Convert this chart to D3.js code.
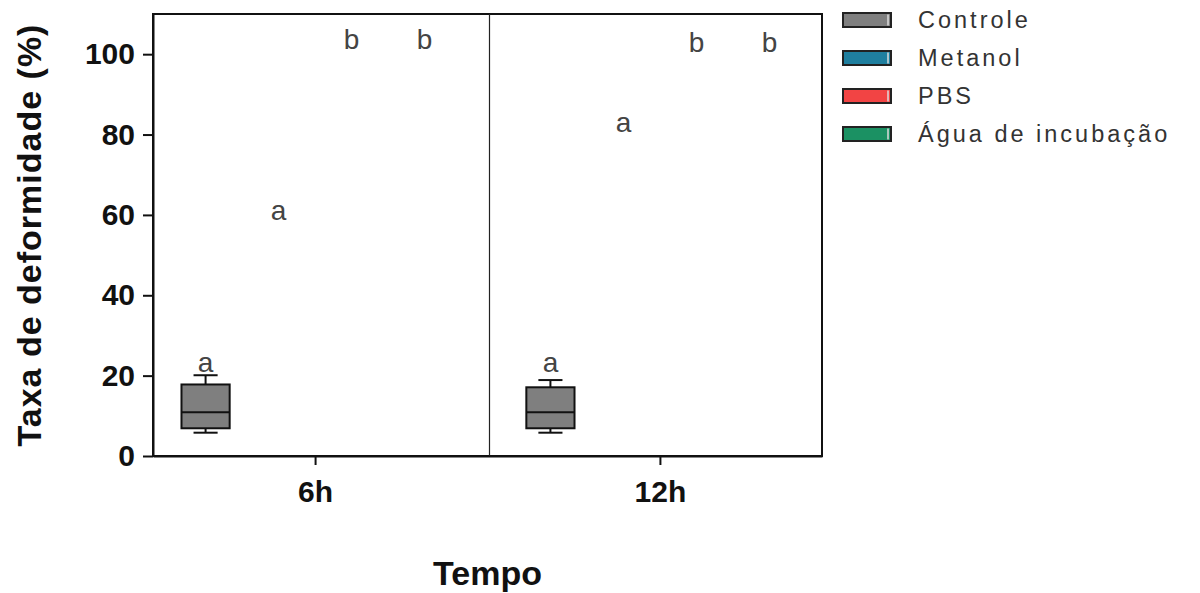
<!DOCTYPE html>
<head>
<meta charset="utf-8">
<script src="https://d3js.org/d3.v7.min.js"></script>
<style>
body { margin: 0; background: #fff; }
text { font-family: "Liberation Sans", Arial, sans-serif; }
.axis path, .axis line { stroke: #111; stroke-width: 2px; }
.axis text { font-size: 30px; font-weight: bold; fill: #111; }
.letter { font-size: 28px; fill: #444; }
.legend text { font-size: 23.5px; letter-spacing: 3px; fill: #333; }
</style>
</head>
<body>
<svg width="1200" height="593"></svg>
<script>
// data
var times = ["6h", "12h"];
var groups = ["Controle", "Metanol", "PBS", "Água de incubação"];
var colors = ["#7f7f7f", "#1f7f9f", "#f24444", "#1b9163"];

// Controle boxes: min, q1, median, q3, max
var boxes = [
  { time: "6h",  group: "Controle", min: 5.8, q1: 6.9, med: 10.9, q3: 17.8, max: 20.1 },
  { time: "12h", group: "Controle", min: 5.8, q1: 6.9, med: 10.9, q3: 17.1, max: 18.9 }
];

// significance letters
var letterTimes  = ["6h", "6h", "6h", "6h", "12h", "12h", "12h", "12h"];
var letterGroups = ["Controle", "Metanol", "PBS", "Água de incubação", "Controle", "Metanol", "PBS", "Água de incubação"];
var letterText   = ["a", "a", "b", "b", "a", "a", "b", "b"];
var letterValue  = [20.9, 58.7, 101.2, 101.2, 20.9, 80.6, 100.5, 100.5];

var yTicks = [0, 20, 40, 60, 80, 100];

var svg = d3.select("svg");
var mLeft = 153, mRight = 822, mTop = 14, mBottom = 456;

var y = d3.scaleLinear().domain([0, 110]).range([mBottom, mTop]);
var x = d3.scalePoint().domain(times).range([mLeft, mRight]).padding(0.47);
var inner = d3.scaleBand().domain(groups).range([-146, 146])
    .paddingInner(0.34).paddingOuter(0.17);

// frame
svg.append("rect")
    .attr("x", mLeft).attr("y", mTop)
    .attr("width", mRight - mLeft).attr("height", mBottom - mTop)
    .attr("fill", "none").attr("stroke", "#111").attr("stroke-width", 2);

// divider between time points
var mid = (x("6h") + x("12h")) / 2 + 2;
svg.append("line")
    .attr("x1", mid).attr("x2", mid)
    .attr("y1", mTop).attr("y2", mBottom)
    .attr("stroke", "#222").attr("stroke-width", 1.2);

// axes
svg.append("g").attr("class", "axis")
    .attr("transform", "translate(" + mLeft + ",0)")
    .call(d3.axisLeft(y).tickValues(yTicks).tickSize(10).tickSizeOuter(0).tickPadding(8));

var xa = svg.append("g").attr("class", "axis")
    .attr("transform", "translate(0," + mBottom + ")")
    .call(d3.axisBottom(x).tickSize(9).tickSizeOuter(0).tickPadding(16));
xa.selectAll("text").attr("font-size", 32);

// boxes
var bw = inner.bandwidth();
var bg = svg.append("g");
boxes.forEach(function(d) {
  var cx = x(d.time) + inner(d.group) + bw / 2;
  var col = colors[groups.indexOf(d.group)];
  var g = bg.append("g").attr("stroke", "#111").attr("stroke-width", 2);
  g.append("line").attr("x1", cx).attr("x2", cx).attr("y1", y(d.max)).attr("y2", y(d.q3));
  g.append("line").attr("x1", cx).attr("x2", cx).attr("y1", y(d.q1)).attr("y2", y(d.min));
  g.append("line").attr("x1", cx - bw / 4).attr("x2", cx + bw / 4).attr("y1", y(d.max)).attr("y2", y(d.max));
  g.append("line").attr("x1", cx - bw / 4).attr("x2", cx + bw / 4).attr("y1", y(d.min)).attr("y2", y(d.min));
  g.append("rect").attr("x", cx - bw / 2).attr("y", y(d.q3))
      .attr("width", bw).attr("height", y(d.q1) - y(d.q3))
      .attr("fill", col);
  g.append("line").attr("x1", cx - bw / 2).attr("x2", cx + bw / 2).attr("y1", y(d.med)).attr("y2", y(d.med));
});

// letters
svg.append("g").selectAll("text")
  .data(letterText)
  .join("text")
    .attr("class", "letter")
    .attr("text-anchor", "middle")
    .attr("x", function(d, i) { return x(letterTimes[i]) + inner(letterGroups[i]) + bw / 2; })
    .attr("y", function(d, i) { return y(letterValue[i]); })
    .text(function(d) { return d; });

// axis titles
svg.append("text")
    .attr("transform", "translate(41," + (mTop + mBottom) / 2 + ") rotate(-90)")
    .attr("text-anchor", "middle")
    .attr("font-size", 34).attr("font-weight", "bold")
    .attr("letter-spacing", "1px")
    .attr("fill", "#111")
    .text("Taxa de deformidade (%)");

svg.append("text")
    .attr("x", (mLeft + mRight) / 2).attr("y", 585)
    .attr("text-anchor", "middle")
    .attr("font-size", 34).attr("font-weight", "bold")
    .attr("fill", "#111")
    .text("Tempo");

// legend
var legend = svg.append("g").attr("class", "legend")
    .attr("transform", "translate(843,13)");
var item = legend.selectAll("g").data(groups).join("g")
    .attr("transform", function(d, i) { return "translate(0," + i * 38 + ")"; });
item.append("rect")
    .attr("width", 48).attr("height", 14)
    .attr("fill", function(d, i) { return colors[i]; })
    .attr("stroke", "#222").attr("stroke-width", 2);
item.append("line")
    .attr("x1", 45).attr("x2", 45).attr("y1", 1.5).attr("y2", 12.5)
    .attr("stroke", "#ddd").attr("stroke-width", 1.5);
item.append("text")
    .attr("x", 75).attr("y", 15)
    .text(function(d) { return d; });
</script>
</body>
